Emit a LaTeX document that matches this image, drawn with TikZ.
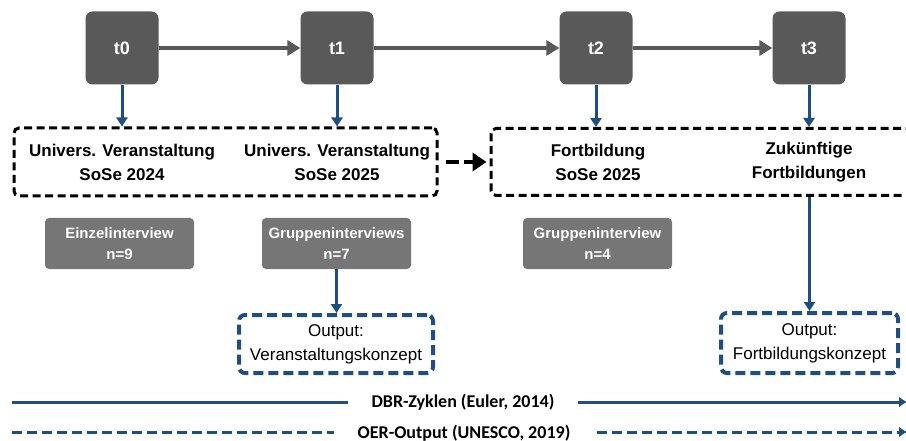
\documentclass[tikz,border=0pt]{standalone}
\usepackage{fontspec}
\setmainfont{Liberation Sans}
\newfontfamily\calfont{Carlito}
\usetikzlibrary{arrows.meta}
\definecolor{tdark}{HTML}{595959}
\definecolor{igray}{HTML}{767676}
\definecolor{dbrblue}{RGB}{31,78,128}
\begin{document}
\begin{tikzpicture}[x=1pt,y=-1pt,
    tbox/.style = {fill=tdark, rounded corners=7pt, minimum size=73pt, text=white, font=\fontsize{18}{20}\selectfont\bfseries},
    grp/.style = {draw=black, line width=3pt, dash pattern=on 8pt off 4.5pt, rounded corners=5pt},
    lbl/.style = {align=center, font=\fontsize{17}{24}\selectfont\bfseries},
    ibox/.style = {fill=igray, rounded corners=4pt, minimum width=149pt, minimum height=51pt, text=white, align=center, font=\fontsize{15}{21}\selectfont\bfseries},
    obox/.style = {draw=dbrblue, line width=4pt, dash pattern=on 10pt off 5pt, rounded corners=6pt, align=center, font=\fontsize{17}{24}\selectfont},
    garrow/.style = {draw=tdark, line width=4pt, -{Triangle[length=13pt,width=15pt]}},
    barrow/.style = {draw=dbrblue, line width=3pt, -{Triangle[length=9pt,width=11pt]}},
    tline/.style = {draw=dbrblue, line width=3pt, -{Latex[length=8pt,width=11pt]}},
    tlabel/.style = {fill=white, inner xsep=24pt, inner ysep=1pt, font=\fontsize{18}{20}\selectfont\calfont\bfseries}]
    \clip (0,0) rectangle (906,441);
    \node[tbox] (t0) at (122,48) {t0};
    \node[tbox] (t1) at (337,48) {t1};
    \node[tbox] (t2) at (596,48) {t2};
    \node[tbox] (t3) at (809,48) {t3};
    \draw[garrow] (t0) -- (t1);
    \draw[garrow] (t1) -- (t2);
    \draw[garrow] (t2) -- (t3);
    \node[grp, minimum width=423pt, minimum height=68pt] (grpA) at (225.5,162) {};
    \node[grp, minimum width=440pt, minimum height=67pt] (grpB) at (711,162) {};
    \node[lbl] (uni1) at (122,162) {Univers. Veranstaltung\\SoSe 2024};
    \node[lbl] (uni2) at (337,162) {Univers. Veranstaltung\\SoSe 2025};
    \node[lbl] (fb1) at (598,162) {Fortbildung\\SoSe 2025};
    \node[lbl] (fb2) at (809,162) {Zukünftige\\Fortbildungen};
    \draw[barrow] (t0) -- (t0 |- grpA.north);
    \draw[barrow] (t1) -- (t1 |- grpA.north);
    \draw[barrow] (t2) -- (t2 |- grpB.north);
    \draw[barrow] (t3) -- (t3 |- grpB.north);
    \draw[line width=4pt, dash pattern=on 13pt off 5pt, -{Triangle[length=14pt,width=18pt]}, shorten <=7pt, shorten >=3pt] (grpA) -- (grpB);
    \node[ibox] (int1) at (119.5,243.5) {Einzelinterview\\n=9};
    \node[ibox] (int2) at (336.5,243.5) {Gruppeninterviews\\n=7};
    \node[ibox] (int3) at (597.5,243.5) {Gruppeninterview\\n=4};
    \node[obox, minimum width=194pt, minimum height=58pt, inner xsep=1pt] (out1) at (336,344) {Output:\\Veranstaltungskonzept};
    \node[obox, minimum width=177pt, minimum height=60pt, inner xsep=1pt] (out2) at (809.5,343) {Output:\\Fortbildungskonzept};
    \draw[barrow] (int2) -- (int2 |- out1.north);
    \draw[barrow] (out2 |- grpB.south) -- (out2.north);
    %% cycle lines at the bottom
    \coordinate (dbrL) at (12,402);
    \coordinate (dbrR) at (907,402);
    \coordinate (oerL) at (12,432);
    \coordinate (oerR) at (907,432);
    \draw[tline] (dbrL) -- (dbrR);
    \draw[tline, dash pattern=on 10pt off 5pt] (oerL) -- (oerR);
    \node[tlabel] (dbr) at (463,402) {DBR-Zyklen (Euler, 2014)};
    \node[tlabel] (oer) at (464,433) {OER-Output (UNESCO, 2019)};
\end{tikzpicture}
\end{document}
